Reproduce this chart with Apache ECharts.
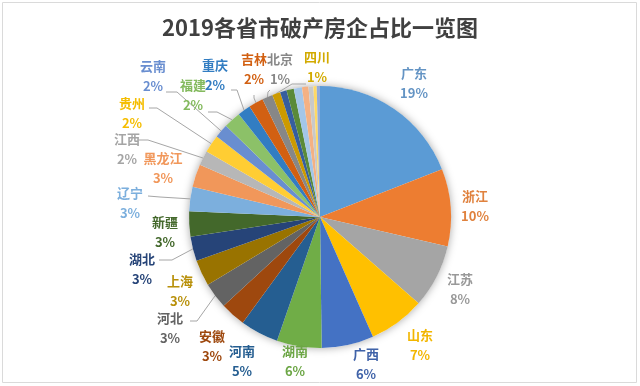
<!DOCTYPE html>
<html>
<head>
<meta charset="utf-8">
<script src="https://cdn.jsdelivr.net/npm/echarts@6/dist/echarts.min.js"></script>
<style>
html,body{margin:0;padding:0;background:#fff;}
#c{width:640px;height:386px;}
</style>
</head>
<body>
<div id="c"></div>
<script>
// ---- data ----
var provinces = ['广东','浙江','江苏','山东','广西','湖南','河南','安徽','河北','上海','湖北','新疆','辽宁','黑龙江','江西','贵州','云南','福建','重庆','吉林','北京','四川','未标注1','未标注2','未标注3','未标注4','未标注5','未标注6','未标注7'];
var shares = [19.0, 9.5, 7.8, 6.9, 6.4, 5.5, 4.7, 3.1, 3.2, 3.2, 3.0, 3.1, 3.0, 2.8, 1.8, 2.2, 1.7, 2.1, 1.6, 1.8, 1.3, 1.0, 0.8, 0.9, 1.0, 0.8, 0.6, 0.4, 0.4];
var titleText = '2019各省市破产房企占比一览图';

// ---- styles / layout ----
var colors = ['#5B9BD5','#ED7D31','#A5A5A5','#FFC000','#4472C4','#70AD47','#255E91','#9E480E','#636363','#997300','#264478','#43682B','#7CAFDD','#F1975A','#B7B7B7','#FFCD33','#698ED0','#8CC168','#327DC2','#D26012','#878787','#CC9A00','#365E9E','#5A8A39','#A3C6E8','#F4B183','#C9C9C9','#FFD966','#8FAADC'];
var labelColors = ['#6494C4','#E0823E','#999999','#F2B600','#3F62A8','#6CA645','#255E91','#9E480E','#636363','#B8900A','#264478','#43682B','#7CAFDD','#F1975A','#A5A5A5','#F5BD00','#698ED0','#84BA5E','#327DC2','#D26012','#878787','#D2AA00'];
var CX = 320, CY = 217, R = 131;
var labelPos = [[414,83],[475,206],[460,289],[420,345],[366,364],[295,361],[242,361],[212,346],[170,328],[180,291],[142,269],[165,232],[130,203],[163,168],[127,149],[132,113],[153,76],[193,95],[215,75],[254,69],[280,69],[317,67]];
var linePts = {
  8: [[197,321],[190,321]],
  10: [[172,260],[159,260]],
  12: [[160,197],[148,196]],
  14: [[148,140],[139,140]],
  15: [[157,108],[149,108]],
  16: [[177,92],[166,92]],
  17: [[217,112],[208,112]],
  18: [[237,90],[231,90]],
  19: [[254,98],[254,95]],
  20: [[268,92],[270,90]],
  21: [[292,84],[306,84]]
};

var total = shares.reduce(function(a,b){return a+b;},0);
function edgePoint(i){
  var cum = 0;
  for (var k=0;k<i;k++) cum += shares[k];
  var mid = (cum + shares[i]/2) / total * 2*Math.PI;
  return [CX + R*Math.sin(mid), CY - R*Math.cos(mid)];
}

var data = provinces.map(function(n,i){
  var d = { name: n, value: shares[i], itemStyle: { color: colors[i] } };
  if (i < labelPos.length) {
    d.label = { show: true, color: labelColors[i] };
    d.labelLine = { show: !!linePts[i] };
  } else {
    d.label = { show: false };
    d.labelLine = { show: false };
  }
  return d;
});

var chart = echarts.init(document.getElementById('c'), null, {renderer:'canvas'});
chart.setOption({
  animation: false,
  backgroundColor: '#fff',
  title: {
    text: titleText, left: 'center', top: 12,
    textStyle: { fontFamily: 'Noto Sans CJK SC', fontSize: 22, fontWeight: 'bold', color: '#404040' }
  },
  graphic: [{
    type: 'rect', shape: { x: 2.5, y: 2.5, width: 634, height: 380 },
    style: { fill: 'none', stroke: '#DADADA', lineWidth: 1 }, silent: true, z: -1
  }],
  series: [{
    type: 'pie', silent: true, center: [CX, CY], radius: R, z: 1,
    label: { show: false }, labelLine: { show: false },
    itemStyle: { color: '#ffffff', shadowBlur: 8, shadowColor: 'rgba(0,0,0,0.35)' },
    data: [{ value: 1, name: 'bg' }]
  }, {
    type: 'pie', center: [CX, CY], radius: R, z: 2,
    startAngle: 90, clockwise: true,
    avoidLabelOverlap: false,
    itemStyle: { borderWidth: 0 },
    label: {
      position: 'outside', alignTo: 'none',
      fontFamily: 'Noto Sans CJK SC', fontSize: 13, fontWeight: 'bold', lineHeight: 20,
      formatter: function(p){ return p.name + '\n' + Math.round(p.percent) + '%'; }
    },
    labelLine: { length: 5, length2: 5, lineStyle: { color: '#A6A6A6', width: 1 } },
    labelLayout: function(p){
      var i = p.dataIndex;
      var pos = labelPos[i];
      if (!pos) return {};
      var r = { x: pos[0], y: pos[1], align: 'center', verticalAlign: 'middle' };
      if (linePts[i]) {
        r.labelLinePoints = [edgePoint(i)].concat(linePts[i]);
      }
      return r;
    },
    data: data
  }]
});
</script>
</body>
</html>
